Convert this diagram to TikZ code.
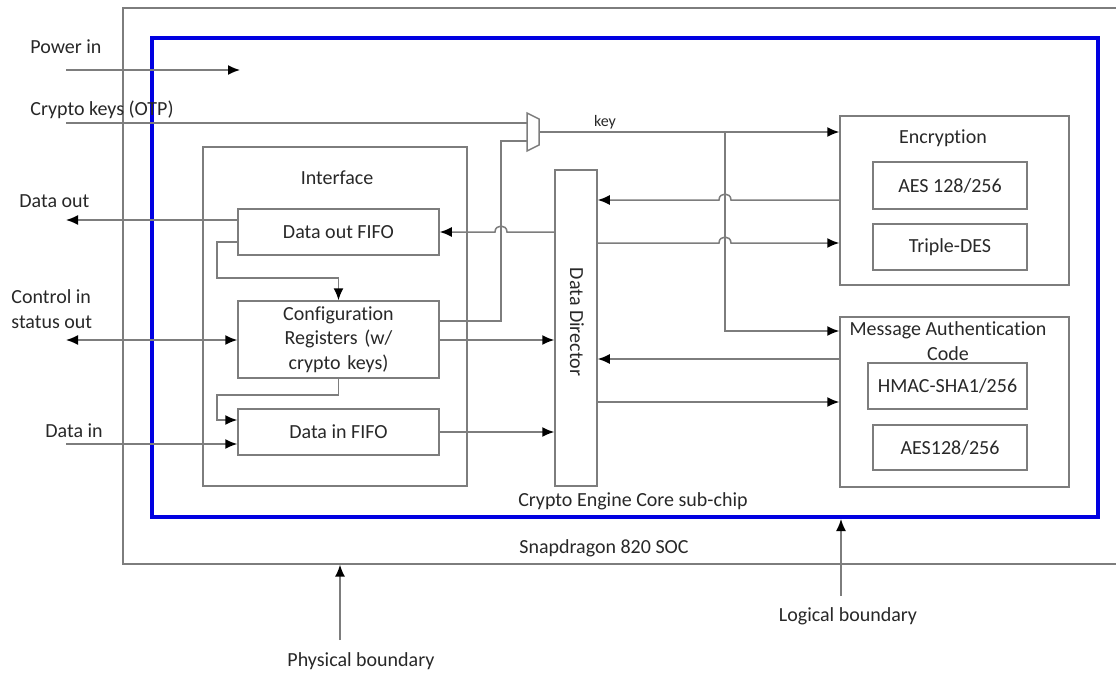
\documentclass[tikz,border=0pt]{standalone}
\usepackage{fontspec}
\setmainfont{Carlito}[Ligatures=NoCommon]
\usetikzlibrary{arrows.meta}
\definecolor{ln}{RGB}{125,125,125}
\definecolor{txt}{RGB}{40,40,40}
\definecolor{coreblue}{RGB}{0,0,225}
\tikzset{
  box/.style={draw=ln, line width=0.75pt, inner sep=0pt, align=center, text=txt, font=\fontsize{10}{12.2}\selectfont},
  wire/.style={draw=ln, line width=0.75pt},
  arr/.style={wire, -{Latex[length=6pt,width=5pt,color=black]}},
  darr/.style={wire, {Latex[length=6pt,width=5pt,color=black]}-{Latex[length=6pt,width=5pt,color=black]}},
  lbl/.style={text=txt, inner sep=0pt, font=\fontsize{10}{12.5}\selectfont},
}
\newcommand\mkbox[7]{%
  \pgfmathsetmacro\bw{(#4-#2)*0.5}\pgfmathsetmacro\bh{(#5-#3)*0.5}%
  \node[box, #6, minimum width=\bw pt, minimum height=\bh pt] (#1) at ({(#2+#4)/2},{(#3+#5)/2}) {#7};}
\begin{document}
\begin{tikzpicture}[x=0.5pt,y=-0.5pt]
\useasboundingbox (0,0) rectangle (1116,675);
\clip (0,0) rectangle (1116,675);
% outer SOC boundary
\mkbox{soc}{123}{8}{1130}{564}{draw=ln, line width=0.65pt}{}
% crypto engine core
\mkbox{core}{152}{38}{1098}{517}{draw=coreblue, line width=2pt}{}
% interface
\mkbox{iface}{203}{147}{467}{486}{}{}
\mkbox{dof}{238}{209}{439}{255}{}{Data out FIFO}
\mkbox{cfg}{238}{301}{439}{378}{text width=95pt}{Configuration\\Registers (w/\\crypto keys)}
\mkbox{dif}{238}{409}{439}{455}{}{Data in FIFO}
\mkbox{dd}{555}{170}{597}{486}{}{}
\mkbox{enc}{840}{116}{1069}{285}{}{}
\mkbox{aesA}{873}{162}{1027}{209}{}{AES 128/256}
\mkbox{tdes}{873}{224}{1027}{270}{}{Triple-DES}
\mkbox{mac}{840}{317}{1069}{487}{}{}
\mkbox{hmac}{868}{363}{1027}{409}{}{HMAC-SHA1/256}
\mkbox{aesB}{873}{425}{1027}{470}{}{AES128/256}
% labels
\node[lbl] (ifacel) at (337,178) {Interface};
\node[lbl, rotate=-90] (ddl) at (577,322) {Data Director};
\node[lbl] (encl) at (943,138) {Encryption};
\node[lbl, align=center] (macl) at (948,341) {Message Authentication\\Code};
\node[lbl] (corel) at (633,501) {Crypto Engine Core sub-chip};
\node[lbl] (socl) at (604,548) {Snapdragon 820 SOC};
\node[lbl, anchor=west] (pwl) at (30,47) {Power in};
\node[lbl, anchor=west] (ckl) at (30,110) {Crypto keys (OTP)};
\node[lbl, anchor=west] (dol) at (19,201) {Data out};
\node[lbl, anchor=west, align=left] (ctl) at (11,309) {Control in\\status out};
\node[lbl, anchor=west] (dil) at (45,431) {Data in};
\node[lbl, font=\fontsize{8}{9}\selectfont] (keyl) at (605,122) {key};
\node[lbl] (physl) at (361,661) {Physical boundary};
\node[lbl] (logl) at (848,616) {Logical boundary};
% mux
\coordinate (m1) at (527,113);
\coordinate (m2) at (539,119);
\coordinate (m3) at (539,145);
\coordinate (m4) at (527,151);
\draw[wire] (m1) -- (m2) -- (m3) -- (m4) -- cycle;
\coordinate (muxinA) at (527,123);
\coordinate (muxinB) at (527,141);
\coordinate (muxout) at (539,132);
% external connectors
\coordinate (pwA) at (66,70);
\coordinate (pwB) at (240,70);
\draw[arr] (pwA) -- (pwB);
\coordinate (ckA) at (66,123);
\draw[wire] (ckA) -- (muxinA);
\coordinate (doA) at (66,220);
\draw[arr] (dof.west |- doA) -- (doA);
\coordinate (ctA) at (66,340);
\draw[darr] (ctA) -- (cfg.west |- ctA);
\coordinate (diA) at (66,444);
\draw[arr] (diA) -- (dif.west |- diA);
% key distribution
\draw[arr] (muxout) -- (enc.west |- muxout);
\coordinate (brA) at (725,132);
\coordinate (brB) at (725,331);
\draw[arr] (brA) -- (brB) -- (mac.west |- brB);
% data director <-> encryption with hops
\draw[arr] (enc.west |- 0,200) -- (731,200) .. controls (731,192) and (719,192) .. (719,200) -- (dd.east |- 0,200);
\draw[arr] (dd.east |- 0,243) -- (719,243) .. controls (719,235) and (731,235) .. (731,243) -- (enc.west |- 0,243);
% data director <-> MAC
\draw[arr] (mac.west |- 0,359) -- (dd.east |- 0,359);
\draw[arr] (dd.east |- 0,402) -- (mac.west |- 0,402);
% data director -> data out FIFO (hop)
\draw[arr] (dd.west |- 0,232) -- (507,232) .. controls (507,224) and (495,224) .. (495,232) -- (dof.east |- 0,232);
% config -> mux
\coordinate (cmA) at (501,321);
\coordinate (cmB) at (501,141);
\draw[wire] (cfg.east |- cmA) -- (cmA) -- (cmB) -- (muxinB);
% config -> data director, data in FIFO -> data director
\draw[arr] (cfg.east |- 0,340) -- (dd.west |- 0,340);
\draw[arr] (dif.east) -- (dd.west |- dif.east);
% internal interface loops
\coordinate (lpA) at (217,242);
\coordinate (lpB) at (217,278);
\draw[arr] (dof.west |- lpA) -- (lpA) -- (lpB) -- (cfg.north |- lpB) -- (cfg.north);
\coordinate (lpC) at (217,395);
\coordinate (lpD) at (217,420);
\draw[arr] (cfg.south) -- (cfg.south |- lpC) -- (lpC) -- (lpD) -- (dif.west |- lpD);
% boundary pointers
\coordinate (phA) at (340,640);
\draw[arr] (phA) -- (phA |- soc.south);
\coordinate (lgA) at (841,596);
\draw[arr] (lgA) -- (841,519);
\end{tikzpicture}
\end{document}
